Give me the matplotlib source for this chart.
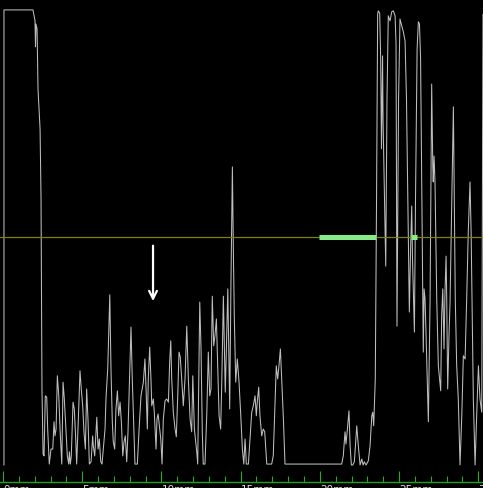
import matplotlib
matplotlib.use("Agg")
import matplotlib.pyplot as plt

# scan position (mm) and signal level (% of full scale)
pos_mm = [
    0.06, 0.06, 1.89, 2.02, 2.05, 2.08, 2.15, 2.21, 2.34, 2.40, 2.46, 2.53,
    2.59, 2.67, 2.76, 2.82, 2.92, 3.03, 3.14, 3.22, 3.28, 3.35, 3.43, 3.52,
    3.60, 3.71, 3.79, 3.87, 3.98, 4.06, 4.15, 4.19, 4.25, 4.31, 4.42, 4.50,
    4.59, 4.65, 4.75, 4.86, 4.94, 5.03, 5.11, 5.20, 5.28, 5.37, 5.45, 5.56,
    5.66, 5.70, 5.79, 5.92, 6.00, 6.08, 6.17, 6.25, 6.33, 6.44, 6.50, 6.61,
    6.74, 6.82, 6.90, 6.96, 7.05, 7.13, 7.22, 7.30, 7.39, 7.47, 7.56, 7.64,
    7.72, 7.81, 7.89, 8.08,
    8.16, 8.27, 8.33, 8.48, 8.59, 8.71, 8.86, 8.96, 9.03, 9.11, 9.17, 9.26,
    9.34, 9.39, 9.49, 9.55, 9.66, 9.72, 9.79, 9.87, 9.96, 10.04, 10.12, 10.23,
    10.33, 10.44, 10.52, 10.59, 10.65, 10.75, 10.86, 10.94, 11.03, 11.11,
    11.19, 11.28, 11.38, 11.49, 11.60, 11.70, 11.81, 11.91, 11.98, 12.08,
    12.23, 12.29,
    12.42, 12.50, 12.58, 12.64, 12.75, 12.86, 12.96, 13.05, 13.13, 13.21,
    13.30, 13.38, 13.47, 13.55, 13.64, 13.74, 13.81, 13.91, 13.97, 14.03,
    14.10, 14.19, 14.25, 14.31, 14.39, 14.48, 14.54, 14.60, 14.69, 14.79,
    14.90, 15.01, 15.11, 15.20, 15.28, 15.36, 15.49, 15.59, 15.70, 15.80,
    15.91, 15.99, 16.05, 16.14, 16.22, 16.33, 16.43, 16.52, 16.65, 16.96,
    17.06, 17.17, 17.25, 17.34, 17.42, 17.51, 17.59, 17.70, 17.80,
    21.38, 21.48, 21.59, 21.65, 21.74, 21.84, 21.91, 21.99, 22.08, 22.18,
    22.33, 22.43, 22.54, 22.65, 22.73, 22.81, 22.92, 23.06, 23.17, 23.28,
    23.34, 23.40, 23.50, 23.58, 23.65, 23.69, 23.78, 23.84, 23.89, 23.96,
    23.99, 24.16, 24.24, 24.32, 24.43, 24.54, 24.64, 24.75, 24.81, 24.87,
    24.97, 25.06, 25.17, 25.27, 25.38, 25.47, 25.65, 25.73, 25.80, 25.85,
    25.97, 26.04, 26.14, 26.22, 26.29, 26.36, 26.53, 26.58, 26.64, 26.70,
    26.85, 26.96, 27.06, 27.13, 27.16, 27.21, 27.27, 27.38, 27.48, 27.63,
    27.69, 27.76, 27.84, 27.90, 27.97, 28.01, 28.07, 28.16, 28.22, 28.33,
    28.43, 28.49, 28.55, 28.64, 28.74, 28.85, 28.96, 29.06, 29.17, 29.27,
    29.37, 29.48, 29.55, 29.63, 29.69, 29.80, 29.90, 30.01, 30.11, 30.22,
    30.30,
]
level = [
    0, 100, 100, 97.6, 91.9, 96.9, 95.8, 82.6, 73.8, 58.5, 16.7, 2.4,
    2.0, 15.2, 14.9, 7.9, 0.2, 3.5, 3.5, 9.5, 6.4, 7.9, 19.6, 15.2,
    7.9, 0.2, 18.2, 14.5, 7.3, 2.0, 0.2, 2.9, 0.2, 2.0, 13.8, 12.3,
    5.7, 0.2, 9.5, 20.7, 16.7, 13.0, 7.3, 3.5, 16.7, 9.5, 0.2, 0.7,
    6.4, 4.2, 2.0, 10.5, 3.5, 5.7, 0.7, 0.2, 3.5, 7.9, 14.5, 21.1,
    37.4, 20.4, 9.5, 5.1, 3.5, 12.3, 16.3, 10.8, 13.8, 9.5, 2.0, 5.1,
    6.4, 0.7, 7.3, 30.3,
    18.9, 6.4, 0.2, 0.2, 7.9, 15.2, 18.2, 23.3, 16.7, 7.9, 18.9, 25.9,
    18.9, 13.0, 14.5, 11.6, 3.5, 10.1, 11.2, 8.6, 5.7, 0.2, 10.1, 14.1,
    14.5, 13.8, 22.6, 27.3, 18.9, 11.6, 7.9, 6.2, 15.2, 24.8,
    23.7, 18.9, 13.0, 18.9, 30.5, 18.9, 10.1, 7.3, 19.6, 7.9,
    2.9, 0.2,
    35.8, 25.5, 7.3, 0.2, 0.2, 10.8, 24.8, 15.2, 16.7, 37.1,
    26.2, 28.4, 32.1, 21.8, 10.8, 7.9, 18.2, 37.1, 27.0, 16.0,
    25.5, 38.7, 25.5, 12.3, 40.2, 65.5, 47.5, 32.7, 18.2, 23.3,
    18.2, 10.8, 3.5, 0.2, 5.7, 0.2, 0.2, 5.7, 11.6, 13.0,
    15.2, 10.8, 13.8, 17.1, 10.8, 6.4, 7.9, 7.3, 0.2, 0.2,
    2.0, 13.8, 21.8, 18.9, 21.8, 25.5, 18.9, 10.1, 0.2,
    0.2, 2.0, 7.3, 4.6, 7.9, 11.9, 4.2, 0, 0, 0.7,
    8.6, 4.2, 0, 1.3, 0, 0.7, 0, 0.9, 4.2, 10.8,
    11.6, 8.6, 18.9, 58.5, 99.1, 99.8, 99.3, 89.2, 69.5, 89.9,
    76.0, 43.7, 80.4, 98.7, 97.6, 99.6, 99.8, 98.7, 92.5, 30.5,
    80.4, 98.0, 96.5, 95.2, 93.2, 80.4, 33.6, 47.5, 56.9, 45.3,
    29.2, 58.5, 91.4, 97.4, 96.9, 89.2, 24.8, 38.7, 36.5, 29.2,
    9.5, 36.5, 83.7, 65.7, 62.2, 67.9, 62.2, 36.5, 21.8, 16.3,
    32.7, 38.7, 25.5, 38.0, 45.9, 36.5, 16.7, 29.2, 35.8, 58.5,
    78.7, 58.5, 36.5, 21.8, 14.5, 0, 10.8, 24.0, 23.3, 36.5,
    51.2, 62.2, 51.2, 29.2, 14.5, 0, 10.8, 21.8, 14.5, 11.6,
    99.0,
]

threshold = 50
# stretches flagged above the threshold
flag_spans = [(19.95, 23.55), (25.76, 26.14)]
# marker arrow: x position, tail level, tip level
arrow_x = 9.47
arrow_tail = 48.8
arrow_tip = 35.4

major_ticks = [0, 5, 10, 15, 20, 25, 30]
minor_ticks = list(range(0, 31))
tick_labels = [f"{t}mm" for t in major_ticks]

fig = plt.figure(figsize=(4.83, 4.89), dpi=100, facecolor="black")
ax = fig.add_axes([0, 6 / 489, 1, 483 / 489], facecolor="black")

ax.plot(pos_mm, level, color="#bebebe", lw=0.75)
ax.axhline(threshold, color="#7d7d12", lw=0.9)
for a, b in flag_spans:
    ax.plot([a, b], [threshold, threshold], color="#86ec86", lw=3.6,
            solid_capstyle="butt")

ax.annotate("", xy=(arrow_x, arrow_tip), xytext=(arrow_x, arrow_tail),
            arrowprops=dict(arrowstyle="->", color="white", lw=1.6,
                            mutation_scale=14))

ax.set_xlim(-0.19, 30.30)
ax.set_ylim(-3.74, 102.4)

for side in ["left", "right"]:
    ax.spines[side].set_visible(False)
ax.spines["top"].set_color("#d0d0d0")
ax.spines["top"].set_linewidth(1.2)
ax.spines["bottom"].set_color("#1f9f1f")
ax.spines["bottom"].set_linewidth(1.0)

ax.set_yticks([])
ax.set_xticks(major_ticks)
ax.set_xticks(minor_ticks, minor=True)
ax.set_xticklabels(tick_labels)
ax.tick_params(axis="x", which="major", direction="in", length=8,
               width=0.8, color="#1faf1f", labelcolor="#e0e0e0",
               labelsize=7.5, pad=1.5)
ax.tick_params(axis="x", which="minor", direction="in", length=4.3,
               width=0.8, color="#1faf1f")
for lab in ax.get_xticklabels():
    lab.set_horizontalalignment("left")

fig.savefig("out.png", dpi=100, facecolor="black")
